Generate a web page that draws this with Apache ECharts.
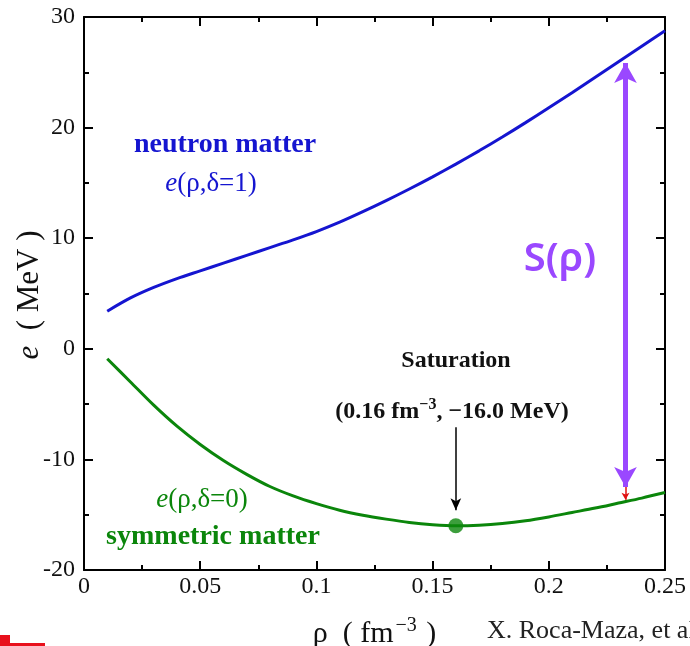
<!DOCTYPE html>
<html>
<head>
<meta charset="utf-8">
<script src="https://cdn.jsdelivr.net/npm/echarts@6/dist/echarts.min.js"></script>
<style>
  html, body { margin: 0; padding: 0; background: #fff; }
  #chart { width: 690px; height: 646px; }
</style>
</head>
<body>
<div id="chart"></div>
<script>
// Density grid (fm^-3)
const rho = [0.01, 0.02, 0.03, 0.04, 0.05, 0.06, 0.07, 0.08, 0.09, 0.10,
             0.11, 0.12, 0.13, 0.14, 0.15, 0.16, 0.17, 0.18, 0.19, 0.20,
             0.21, 0.22, 0.23, 0.24, 0.25];
// Energy per nucleon of pure neutron matter (MeV)
const eNeutron = [3.4, 4.6, 5.55, 6.35, 7.05, 7.75, 8.45, 9.15, 9.85, 10.6,
                  11.45, 12.4, 13.4, 14.45, 15.55, 16.7, 17.9, 19.15, 20.45, 21.8,
                  23.15, 24.55, 25.95, 27.35, 28.75];
// Energy per nucleon of symmetric nuclear matter (MeV)
const eSymmetric = [-0.9, -3.0, -5.1, -7.0, -8.65, -10.1, -11.35, -12.45, -13.3, -14.0,
                    -14.6, -15.05, -15.4, -15.7, -15.9, -16.0, -15.95, -15.8, -15.55, -15.2,
                    -14.8, -14.4, -13.95, -13.5, -13.0];
// Saturation point
const saturation = [0.16, -16.0];
// Symmetry-energy arrow, taken at this density between the two curves
const symRho = 0.233;
const symTop = 25.85, symBottom = -12.5, symCurve = -13.65;
// Pointer to the saturation point
const satArrow = [-7.1, -14.6];
// Tick labels
const xTicks = [0, 0.05, 0.1, 0.15, 0.2, 0.25];
const yTicks = [-20, -10, 0, 10, 20, 30];

const serif = 'Liberation Serif';
const blue = '#1515d0';
const green = '#0b860b';
const purple = '#9a48ff';

function pairs(xs, ys) { return xs.map((x, i) => [x, ys[i]]); }

function axisCommon() {
  return {
    axisLine: { onZero: false, lineStyle: { color: '#000', width: 2 } },
    axisTick: { inside: true, length: 9, lineStyle: { color: '#000', width: 2 } },
    minorTick: { show: true, splitNumber: 2, length: 5, lineStyle: { color: '#000', width: 2 } },
    splitLine: { show: false }
  };
}

const chart = echarts.init(document.getElementById('chart'), null, { renderer: 'canvas' });

const option = {
  animation: false,
  backgroundColor: '#fff',
  grid: { left: 84, top: 17, width: 581, height: 553, containLabel: false, outerBoundsMode: 'none' },
  xAxis: [
    Object.assign({
      type: 'value', min: xTicks[0], max: xTicks[xTicks.length - 1], interval: 0.05,
      position: 'bottom',
      axisLabel: { fontFamily: serif, fontSize: 24, color: '#111', margin: 5,
                   formatter: v => String(+v.toFixed(2)) },
      name: '{a|ρ  ( fm}{s|−3}{a| )}',
      nameLocation: 'middle', nameGap: 46, nameMoveOverlap: false,
      nameTextStyle: {
        rich: {
          a: { fontFamily: serif, fontSize: 30, color: '#111' },
          s: { fontFamily: serif, fontSize: 20, color: '#111', padding: [0, 2, 17, 2] }
        }
      }
    }, axisCommon()),
    Object.assign({
      type: 'value', min: 0, max: 0.25, interval: 0.05, position: 'top',
      axisLabel: { show: false }
    }, axisCommon())
  ],
  yAxis: [
    Object.assign({
      type: 'value', min: yTicks[0], max: yTicks[yTicks.length - 1], interval: 10,
      position: 'left',
      axisLabel: { fontFamily: serif, fontSize: 24, color: '#111', margin: 9 }
    }, axisCommon()),
    Object.assign({
      type: 'value', min: -20, max: 30, interval: 10, position: 'right',
      axisLabel: { show: false }
    }, axisCommon())
  ],
  series: [
    {
      name: 'neutron matter', type: 'line', data: pairs(rho, eNeutron),
      smooth: 0.3, showSymbol: false, lineStyle: { color: blue, width: 3 }, z: 3
    },
    {
      name: 'symmetric matter', type: 'line', data: pairs(rho, eSymmetric),
      smooth: 0.3, showSymbol: false, lineStyle: { color: green, width: 3 }, z: 3,
      markLine: {
        silent: true, animation: false, label: { show: false },
        data: [
          // symmetry energy S(rho): double arrow between the curves
          [
            { coord: [symRho, symTop], symbol: 'arrow', symbolSize: [17, 20],
              lineStyle: { color: purple, width: 5, type: 'solid' }, itemStyle: { color: purple } },
            { coord: [symRho, symBottom], symbol: 'arrow', symbolSize: [17, 20] }
          ],
          // small red pointer down to the symmetric curve
          [
            { coord: [symRho, symBottom], symbol: 'none',
              lineStyle: { color: '#e01010', width: 1.5, type: 'solid' }, itemStyle: { color: '#e01010' } },
            { coord: [symRho, symCurve], symbol: 'arrow', symbolSize: [6, 7] }
          ],
          // pointer to the saturation point
          [
            { coord: [saturation[0], satArrow[0]], symbol: 'none',
              lineStyle: { color: '#000', width: 1.5, type: 'solid' }, itemStyle: { color: '#000' } },
            { coord: [saturation[0], satArrow[1]], symbol: 'arrow', symbolSize: [8, 12] }
          ]
        ]
      }
    },
    {
      name: 'saturation', type: 'scatter', data: [saturation],
      symbol: 'circle', symbolSize: 15, itemStyle: { color: green }, z: 4
    }
  ],
  graphic: [
    // y-axis title
    { type: 'text', x: 30, y: 295, rotation: Math.PI / 2,
      style: { text: '{i|e}{a|  ( MeV )}', align: 'center', verticalAlign: 'middle',
        rich: { i: { fontFamily: serif, fontSize: 31, fontStyle: 'italic', fill: '#111' },
                a: { fontFamily: serif, fontSize: 31, fill: '#111' } } } },
    { type: 'text', x: 225, y: 145, style: { text: 'neutron matter', fill: blue,
      font: 'bold 28px "Liberation Serif"', align: 'center', verticalAlign: 'middle' } },
    { type: 'text', x: 211, y: 184, style: { text: '{i|e}{a|(ρ,δ=1)}', align: 'center', verticalAlign: 'middle',
      rich: { i: { fontFamily: serif, fontSize: 27, fontStyle: 'italic', fill: blue },
              a: { fontFamily: serif, fontSize: 27, fill: blue } } } },
    { type: 'text', x: 202, y: 500, style: { text: '{i|e}{a|(ρ,δ=0)}', align: 'center', verticalAlign: 'middle',
      rich: { i: { fontFamily: serif, fontSize: 27, fontStyle: 'italic', fill: green },
              a: { fontFamily: serif, fontSize: 27, fill: green } } } },
    { type: 'text', x: 213, y: 537, style: { text: 'symmetric matter', fill: green,
      font: 'bold 28px "Liberation Serif"', align: 'center', verticalAlign: 'middle' } },
    { type: 'text', x: 456, y: 361, style: { text: 'Saturation', fill: '#111',
      font: 'bold 24px "Liberation Serif"', align: 'center', verticalAlign: 'middle' } },
    { type: 'text', x: 452, y: 412, style: { text: '{a|(0.16 fm}{s|−3}{a|, −16.0 MeV)}', align: 'center', verticalAlign: 'middle',
      rich: { a: { fontFamily: serif, fontSize: 24, fontWeight: 'bold', fill: '#111' },
              s: { fontFamily: serif, fontSize: 16, fontWeight: 'bold', fill: '#111', padding: [0, 0, 14, 0] } } } },
    { type: 'text', x: 560, y: 260, style: { text: 'S(ρ)', fill: purple,
      font: '600 40px "Noto Sans"', align: 'center', verticalAlign: 'middle' } },
    { type: 'text', x: 487, y: 631, style: { text: 'X. Roca-Maza, et al.', fill: '#222',
      font: '26px "Liberation Serif"', align: 'left', verticalAlign: 'middle' } },
    { type: 'rect', shape: { x: 0, y: 635, width: 10, height: 11 }, style: { fill: '#e8101c' } },
    { type: 'rect', shape: { x: 0, y: 643, width: 45, height: 3 }, style: { fill: '#e8101c' } }
  ]
};

chart.setOption(option);
</script>
</body>
</html>
